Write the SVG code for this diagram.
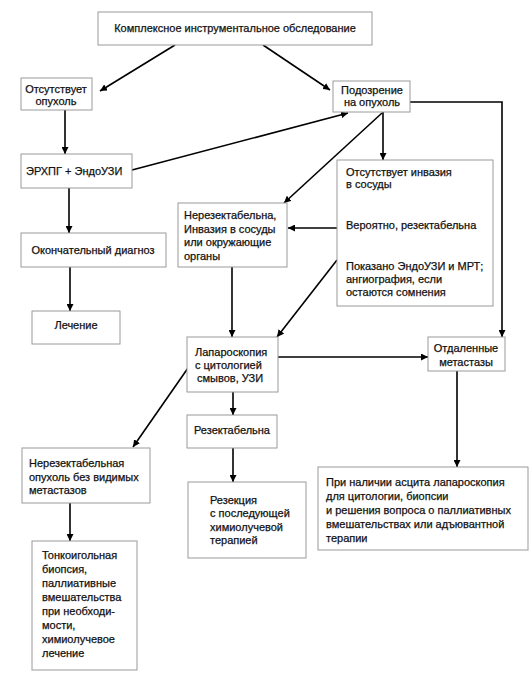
<svg xmlns="http://www.w3.org/2000/svg" width="531" height="685" viewBox="0 0 531 685">
<defs>
<style>
.box{fill:#fff;stroke:#9a9a9a;stroke-width:1}
text{font-family:"Liberation Sans",Arial,sans-serif;font-size:11px;fill:#111;stroke:#111;stroke-width:0.25}
.c{text-anchor:middle}
.ln{fill:none;stroke:#000;stroke-width:1.6}
</style>
<marker id="ah" viewBox="0 0 10 10" refX="10" refY="5" markerWidth="7" markerHeight="7" markerUnits="userSpaceOnUse" orient="auto">
<path d="M0,0 L10,5 L0,10 z" fill="#000"/>
</marker>
</defs>
<rect width="531" height="685" fill="#fff"/>
<g id="connectors">
<line class="ln" x1="175" y1="45" x2="100" y2="91" marker-end="url(#ah)"/>
<line class="ln" x1="263" y1="45" x2="330" y2="90" marker-end="url(#ah)"/>
<line class="ln" x1="65" y1="110" x2="65" y2="154" marker-end="url(#ah)"/>
<line class="ln" x1="132" y1="170" x2="348" y2="113" marker-end="url(#ah)"/>
<line class="ln" x1="69" y1="188" x2="69" y2="233" marker-end="url(#ah)"/>
<line class="ln" x1="70" y1="267" x2="70" y2="311" marker-end="url(#ah)"/>
<polyline class="ln" points="410,102 502,102 502,337" marker-end="url(#ah)"/>
<line class="ln" x1="383" y1="112" x2="383" y2="160" marker-end="url(#ah)"/>
<line class="ln" x1="382" y1="113" x2="284" y2="203" marker-end="url(#ah)"/>
<line class="ln" x1="337" y1="228" x2="288" y2="228" marker-end="url(#ah)"/>
<line class="ln" x1="337" y1="260" x2="277" y2="337" marker-end="url(#ah)"/>
<line class="ln" x1="232" y1="267" x2="232" y2="337" marker-end="url(#ah)"/>
<line class="ln" x1="278" y1="357" x2="428" y2="357" marker-end="url(#ah)"/>
<line class="ln" x1="188" y1="368" x2="133" y2="447" marker-end="url(#ah)"/>
<line class="ln" x1="233" y1="392" x2="233" y2="415" marker-end="url(#ah)"/>
<line class="ln" x1="233" y1="448" x2="233" y2="482" marker-end="url(#ah)"/>
<line class="ln" x1="457" y1="371" x2="457" y2="467" marker-end="url(#ah)"/>
<line class="ln" x1="70" y1="503" x2="70" y2="541" marker-end="url(#ah)"/>
</g>
<g id="n-complex">
<rect class="box" x="98" y="12" width="274" height="33"/>
<text class="c" x="235" y="32">Комплексное инструментальное обследование</text>
</g>
<g id="n-no-tumor">
<rect class="box" x="21" y="78" width="71" height="32"/>
<text class="c" x="56" y="93">Отсутствует</text>
<text class="c" x="56" y="105">опухоль</text>
</g>
<g id="n-suspect">
<rect class="box" x="333" y="81" width="77" height="31"/>
<text class="c" x="372" y="94">Подозрение</text>
<text class="c" x="372" y="106">на опухоль</text>
</g>
<g id="n-ercp">
<rect class="box" x="21" y="154" width="111" height="34"/>
<text x="26" y="175">ЭРХПГ + ЭндоУЗИ</text>
</g>
<g id="n-final">
<rect class="box" x="21" y="233" width="145" height="34"/>
<text class="c" x="93" y="254">Окончательный диагноз</text>
</g>
<g id="n-treat">
<rect class="box" x="32" y="311" width="88" height="33"/>
<text class="c" x="76" y="329">Лечение</text>
</g>
<g id="n-unres">
<rect class="box" x="178" y="203" width="109" height="64"/>
<text x="184" y="219">Нерезектабельна,</text>
<text x="184" y="233">Инвазия в сосуды</text>
<text x="184" y="246">или окружающие</text>
<text x="184" y="260">органы</text>
</g>
<g id="n-noinv">
<rect class="box" x="337" y="160" width="156" height="146"/>
<text x="346" y="176">Отсутствует инвазия</text>
<text x="346" y="188">в сосуды</text>
<text x="346" y="229">Вероятно, резектабельна</text>
<text x="346" y="270">Показано ЭндоУЗИ и МРТ;</text>
<text x="346" y="283">ангиография, если</text>
<text x="346" y="296">остаются сомнения</text>
</g>
<g id="n-lap">
<rect class="box" x="187" y="337" width="91" height="55"/>
<text x="195" y="356">Лапароскопия</text>
<text x="195" y="369">с цитологией</text>
<text x="197" y="382">смывов, УЗИ</text>
</g>
<g id="n-mets">
<rect class="box" x="428" y="337" width="77" height="34"/>
<text class="c" x="466" y="352">Отдаленные</text>
<text class="c" x="466" y="366">метастазы</text>
</g>
<g id="n-res">
<rect class="box" x="187" y="415" width="90" height="33"/>
<text class="c" x="232" y="434">Резектабельна</text>
</g>
<g id="n-unres2">
<rect class="box" x="22" y="448" width="128" height="55"/>
<text x="29" y="467">Нерезектабельная</text>
<text x="29" y="481">опухоль без видимых</text>
<text x="29" y="494">метастазов</text>
</g>
<g id="n-resect">
<rect class="box" x="188" y="482" width="118" height="76"/>
<text x="210" y="504">Резекция</text>
<text x="210" y="517">с последующей</text>
<text x="210" y="531">химиолучевой</text>
<text x="210" y="544">терапией</text>
</g>
<g id="n-ascites">
<rect class="box" x="318" y="467" width="210" height="83"/>
<text x="326" y="486">При наличии асцита лапароскопия</text>
<text x="326" y="500">для цитологии, биопсии</text>
<text x="326" y="514">и решения вопроса о паллиативных</text>
<text x="326" y="528">вмешательствах или  адъювантной</text>
<text x="326" y="542">терапии</text>
</g>
<g id="n-fna">
<rect class="box" x="32" y="541" width="105" height="129"/>
<text x="42" y="559">Тонкоигольная</text>
<text x="42" y="573">биопсия,</text>
<text x="42" y="587">паллиативные</text>
<text x="42" y="601">вмешательства</text>
<text x="42" y="615">при необходи-</text>
<text x="42" y="629">мости,</text>
<text x="42" y="643">химиолучевое</text>
<text x="42" y="657">лечение</text>
</g>
</svg>
